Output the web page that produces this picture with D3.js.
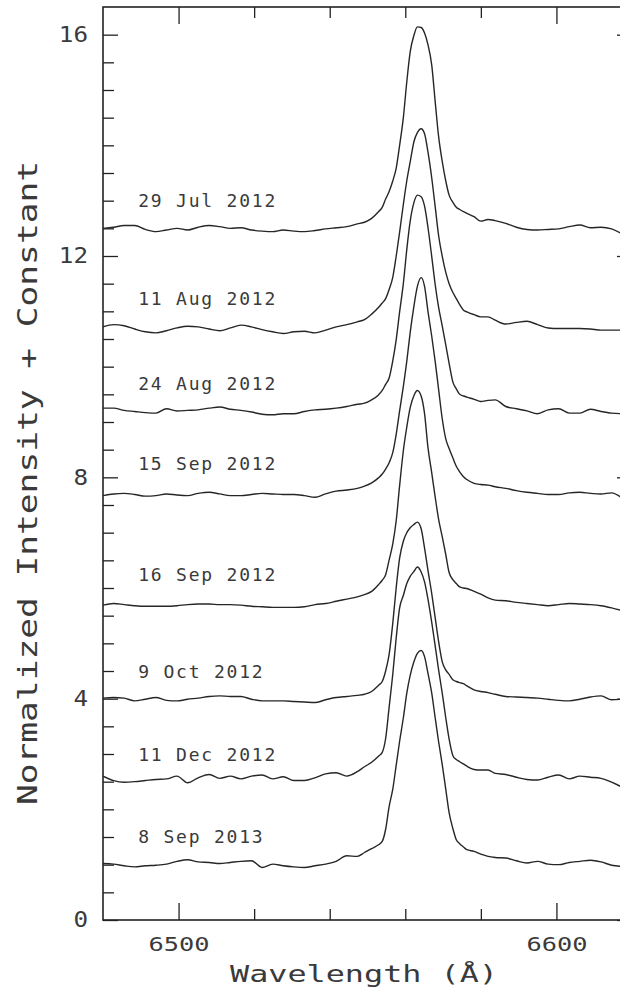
<!DOCTYPE html>
<html><head><meta charset="utf-8">
<script src="https://cdn.jsdelivr.net/npm/d3@7"></script>
<style>body{margin:0;background:#fff}</style>
</head><body><svg id="c" width="620" height="991"></svg>
<script>
// ---------- data ----------
const wavelength = [6480.0, 6482.8, 6485.6, 6488.4, 6491.2, 6494.0, 6496.8, 6499.6, 6502.4, 6505.2, 6508.1, 6510.9, 6513.7, 6516.5, 6519.3, 6522.1, 6524.9, 6527.7, 6530.5, 6533.3, 6536.1, 6538.9, 6541.7, 6544.5, 6547.3,
  6549.2, 6551.1,
  6552.9, 6553.9, 6554.8, 6555.7, 6556.7, 6557.6, 6558.5, 6559.5, 6560.4, 6561.3, 6562.3, 6563.2, 6564.2, 6565.1, 6566.0, 6567.0, 6567.9, 6568.8, 6569.8, 6570.7, 6571.6, 6572.6, 6573.5, 6574.4, 6575.4, 6576.3,
  6578.2, 6580.0, 6581.9, 6583.8,
  6586.6, 6589.4, 6592.2, 6595.0, 6597.8, 6600.6, 6603.4, 6606.2, 6609.0, 6611.8, 6614.6, 6617.4];

const dates = ["29 Jul 2012", "11 Aug 2012", "24 Aug 2012", "15 Sep 2012", "16 Sep 2012", "9 Oct 2012", "11 Dec 2012", "8 Sep 2013"];
const labelLevels = [12.89, 11.11, 9.57, 8.13, 6.13, 4.37, 2.88, 1.39];

const s29Jul2012 = [12.50, 12.52, 12.55, 12.55, 12.48, 12.44, 12.47, 12.50, 12.47, 12.52, 12.55, 12.53, 12.50, 12.51, 12.47, 12.45, 12.44, 12.47, 12.45, 12.44, 12.46, 12.49, 12.51, 12.53, 12.58,
  12.61, 12.68,
  12.80, 12.88, 13.03, 13.16, 13.36, 13.59, 14.00, 14.51, 15.15, 15.69, 15.99, 16.14, 16.13, 16.03, 15.82, 15.45, 14.80, 14.17, 13.70, 13.36, 13.10, 12.97, 12.88, 12.84, 12.80, 12.77,
  12.71, 12.63, 12.66, 12.64,
  12.59, 12.52, 12.48, 12.47, 12.48, 12.49, 12.53, 12.56, 12.51, 12.52, 12.49, 12.40];
const s11Aug2012 = [10.72, 10.76, 10.74, 10.68, 10.63, 10.61, 10.65, 10.70, 10.73, 10.72, 10.68, 10.65, 10.70, 10.75, 10.72, 10.67, 10.63, 10.60, 10.63, 10.64, 10.61, 10.66, 10.72, 10.76, 10.81,
  10.85, 10.95,
  11.07, 11.15, 11.23, 11.39, 11.62, 12.00, 12.43, 12.94, 13.36, 13.70, 14.07, 14.23, 14.30, 14.21, 13.88, 13.41, 12.90, 12.38, 11.99, 11.71, 11.50, 11.34, 11.23, 11.12, 11.02, 10.99,
  10.94, 10.90, 10.90, 10.84,
  10.77, 10.80, 10.82, 10.76, 10.70, 10.69, 10.69, 10.69, 10.68, 10.66, 10.66, 10.66];
const s24Aug2012 = [9.25, 9.25, 9.21, 9.19, 9.17, 9.16, 9.24, 9.20, 9.21, 9.22, 9.25, 9.27, 9.23, 9.21, 9.18, 9.14, 9.13, 9.15, 9.15, 9.19, 9.22, 9.23, 9.25, 9.28, 9.32,
  9.34, 9.40,
  9.49, 9.57, 9.68, 9.79, 10.11, 10.49, 10.99, 11.51, 12.12, 12.63, 12.97, 13.10, 13.07, 12.90, 12.52, 11.99, 11.49, 11.08, 10.73, 10.40, 10.06, 9.72, 9.60, 9.50, 9.47, 9.45,
  9.41, 9.37, 9.39, 9.40,
  9.28, 9.24, 9.20, 9.15, 9.22, 9.24, 9.16, 9.16, 9.23, 9.19, 9.16, 9.15];
const s15Sep2012 = [7.67, 7.70, 7.71, 7.69, 7.66, 7.67, 7.70, 7.68, 7.67, 7.71, 7.73, 7.70, 7.67, 7.67, 7.69, 7.71, 7.70, 7.69, 7.69, 7.67, 7.64, 7.70, 7.75, 7.77, 7.80,
  7.84, 7.90,
  7.99, 8.06, 8.15, 8.26, 8.45, 8.78, 9.20, 9.65, 10.10, 10.62, 11.10, 11.45, 11.61, 11.45, 11.00, 10.55, 10.10, 9.60, 9.05, 8.70, 8.52, 8.35, 8.20, 8.10, 8.01, 7.96,
  7.89, 7.87, 7.86, 7.83,
  7.80, 7.76, 7.73, 7.71, 7.69, 7.69, 7.72, 7.73, 7.71, 7.70, 7.72, 7.62];
const s16Sep2012 = [5.69, 5.72, 5.70, 5.68, 5.67, 5.67, 5.67, 5.68, 5.70, 5.71, 5.71, 5.70, 5.70, 5.69, 5.67, 5.66, 5.65, 5.65, 5.65, 5.66, 5.70, 5.72, 5.76, 5.80, 5.84,
  5.88, 5.94,
  6.06, 6.14, 6.24, 6.50, 6.80, 7.22, 7.85, 8.49, 8.91, 9.26, 9.48, 9.57, 9.47, 9.15, 8.54, 8.08, 7.65, 7.25, 6.92, 6.61, 6.28, 6.15, 6.08, 6.02, 6.00, 5.99,
  5.94, 5.89, 5.82, 5.78,
  5.77, 5.74, 5.72, 5.70, 5.68, 5.70, 5.72, 5.71, 5.70, 5.68, 5.64, 5.59];
const s9Oct2012 = [4.01, 4.02, 4.01, 3.96, 3.99, 4.02, 3.97, 3.96, 3.99, 4.01, 4.04, 4.05, 4.04, 4.04, 3.99, 3.96, 3.96, 3.96, 3.95, 3.94, 3.93, 3.98, 4.02, 4.04, 4.06,
  4.08, 4.13,
  4.24, 4.31, 4.50, 4.79, 5.37, 6.01, 6.54, 6.85, 7.00, 7.09, 7.15, 7.19, 7.07, 6.72, 6.32, 5.90, 5.47, 5.04, 4.66, 4.52, 4.44, 4.34, 4.31, 4.29, 4.27, 4.23,
  4.16, 4.13, 4.11, 4.08,
  4.04, 4.03, 4.02, 4.01, 3.99, 3.97, 3.96, 3.99, 4.03, 4.05, 3.98, 3.99];
const s11Dec2012 = [2.60, 2.52, 2.49, 2.50, 2.52, 2.54, 2.55, 2.60, 2.48, 2.57, 2.63, 2.56, 2.60, 2.55, 2.60, 2.62, 2.55, 2.59, 2.52, 2.52, 2.57, 2.64, 2.66, 2.60, 2.68,
  2.77, 2.85,
  2.96, 3.03, 3.28, 3.83, 4.45, 5.10, 5.64, 5.87, 6.08, 6.21, 6.30, 6.38, 6.29, 6.11, 5.80, 5.38, 4.96, 4.53, 4.09, 3.66, 3.27, 2.97, 2.90, 2.86, 2.82, 2.78,
  2.72, 2.71, 2.71, 2.65,
  2.63, 2.58, 2.54, 2.53, 2.58, 2.62, 2.55, 2.60, 2.58, 2.56, 2.49, 2.40];
const s8Sep2013 = [1.02, 1.01, 0.98, 0.96, 0.98, 0.99, 1.01, 1.06, 1.09, 1.05, 1.04, 1.02, 1.04, 1.06, 1.07, 0.95, 1.01, 0.98, 0.96, 0.95, 0.98, 1.01, 1.06, 1.16, 1.15,
  1.22, 1.29,
  1.36, 1.42, 1.64, 2.04, 2.37, 2.80, 3.23, 3.66, 4.10, 4.42, 4.67, 4.82, 4.87, 4.76, 4.46, 4.10, 3.66, 3.23, 2.80, 2.37, 1.94, 1.65, 1.45, 1.38, 1.32, 1.27,
  1.24, 1.19, 1.15, 1.13,
  1.12, 1.07, 1.03, 1.06, 1.01, 1.00, 1.04, 1.06, 1.08, 1.05, 0.99, 0.97];

const spectra = [s29Jul2012, s11Aug2012, s24Aug2012, s15Sep2012, s16Sep2012, s9Oct2012, s11Dec2012, s8Sep2013];

const yMajorTicks = [0, 4, 8, 12, 16];
const yMinorStep = 0.5;
const xMajorTicks = [6500, 6600];
const xMinorTicks = [6520, 6540, 6560, 6580];
const xDomain = [6480, 6620];
const yDomain = [0, 16.5];
const xTitle = "Wavelength (Å)";
const yTitle = "Normalized Intensity + Constant";

// ---------- layout ----------
const L = 103, R = 632, T = 7, B = 920;
const ink = "#222", textInk = "#3a3a3a";
const svg = d3.select("#c");
const x = d3.scaleLinear().domain(xDomain).range([L, R]);
const y = d3.scaleLinear().domain(yDomain).range([B, T]);

const yMinor = d3.range(yDomain[0], 16.01, yMinorStep).filter(v => !yMajorTicks.includes(v));

function styleAxis(g) {
  g.select(".domain").remove();
  g.selectAll(".tick line").attr("stroke", ink).attr("stroke-width", 1.3);
}
const mono = "'DejaVu Sans Mono', 'Liberation Mono', monospace";

// left axis
svg.append("g").attr("transform", `translate(${L},0)`)
  .call(d3.axisLeft(y).tickValues(yMinor).tickSize(-11).tickFormat("")).call(styleAxis);
svg.append("g").attr("transform", `translate(${L},0)`)
  .call(d3.axisLeft(y).tickValues(yMajorTicks).tickSize(-15).tickPadding(15).tickFormat(d3.format("d")))
  .call(styleAxis)
  .call(g => g.selectAll("text")
    .attr("font-family", mono).attr("font-size", 21).attr("fill", textInk)
    .attr("textLength", d => String(d).length * 14.6).attr("lengthAdjust", "spacingAndGlyphs"));
// right axis (inward ticks)
svg.append("g").attr("transform", `translate(${R},0)`)
  .call(d3.axisLeft(y).tickValues(yMinor).tickSize(11).tickFormat("")).call(styleAxis);
svg.append("g").attr("transform", `translate(${R},0)`)
  .call(d3.axisLeft(y).tickValues(yMajorTicks).tickSize(15).tickFormat("")).call(styleAxis);
// bottom axis
svg.append("g").attr("transform", `translate(0,${B})`)
  .call(d3.axisBottom(x).tickValues(xMinorTicks).tickSize(-11).tickFormat("")).call(styleAxis);
svg.append("g").attr("transform", `translate(0,${B})`)
  .call(d3.axisBottom(x).tickValues(xMajorTicks).tickSize(-17).tickPadding(18).tickFormat(d3.format("d")))
  .call(styleAxis)
  .call(g => g.selectAll("text")
    .attr("font-family", mono).attr("font-size", 19).attr("fill", textInk)
    .attr("textLength", 61).attr("lengthAdjust", "spacingAndGlyphs"));
// top axis (inward ticks)
svg.append("g").attr("transform", `translate(0,${T})`)
  .call(d3.axisBottom(x).tickValues(xMinorTicks).tickSize(11).tickFormat("")).call(styleAxis);
svg.append("g").attr("transform", `translate(0,${T})`)
  .call(d3.axisBottom(x).tickValues(xMajorTicks).tickSize(17).tickFormat("")).call(styleAxis);

// frame
svg.append("rect").attr("x", L).attr("y", T).attr("width", R - L).attr("height", B - T)
  .attr("fill", "none").attr("stroke", ink).attr("stroke-width", 1.6);

// spectra
svg.append("clipPath").attr("id", "clip").append("rect")
  .attr("x", L).attr("y", T).attr("width", R - L).attr("height", B - T);
const line = d3.line().x((d, i) => x(wavelength[i])).y(d => y(d)).curve(d3.curveMonotoneX);
svg.append("g").attr("clip-path", "url(#clip)")
  .selectAll("path").data(spectra).join("path")
  .attr("d", line).attr("fill", "none").attr("stroke", "#262626").attr("stroke-width", 1.4)
  .attr("stroke-linejoin", "round");

// date labels
svg.append("g").selectAll("text").data(dates).join("text")
  .attr("x", x(6489.3)).attr("y", (d, i) => y(labelLevels[i]))
  .attr("font-family", mono).attr("font-size", 18).attr("fill", textInk)
  .attr("textLength", d => d.length * 12.65 - 2).attr("lengthAdjust", "spacing")
  .text(d => d);

// axis titles
svg.append("text").attr("x", 364).attr("y", 982).attr("text-anchor", "middle")
  .attr("font-family", mono).attr("font-size", 23).attr("fill", textInk)
  .attr("textLength", 268).attr("lengthAdjust", "spacingAndGlyphs").text(xTitle);
svg.append("text").attr("transform", "translate(37,483) rotate(-90)").attr("text-anchor", "middle")
  .attr("font-family", mono).attr("font-size", 27).attr("fill", textInk)
  .attr("textLength", 644).attr("lengthAdjust", "spacingAndGlyphs").text(yTitle);
</script>
</body></html>
